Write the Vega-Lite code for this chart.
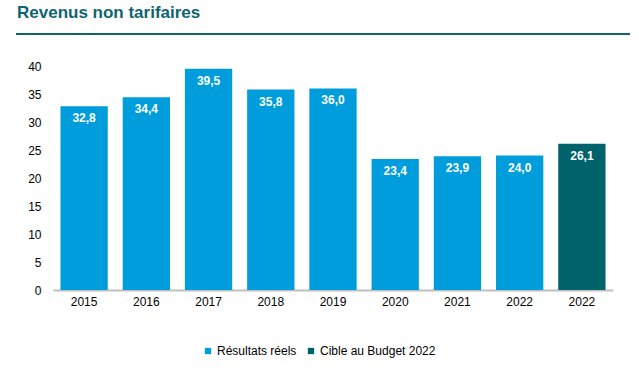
{
  "$schema": "https://vega.github.io/schema/vega-lite/v6.json",
  "autosize": {"type": "none"},
  "width": 560,
  "height": 224,
  "padding": {"left": 53, "top": 66, "right": 26, "bottom": 90},
  "background": "white",
  "config": {
    "font": "Liberation Sans",
    "view": {"stroke": null},
    "axisY": {"grid": false, "domain": false, "ticks": false, "labelFontSize": 12, "labelColor": "#000000", "labelPadding": 12, "title": null, "labelOverlap": false},
    "locale": {"number": {"decimal": ",", "thousands": " ", "grouping": [3], "currency": ["", " €"]}}
  },
  "title": {
    "text": "Revenus non tarifaires",
    "anchor": "start",
    "frame": "group",
    "dx": -36,
    "offset": 11,
    "fontSize": 17,
    "fontWeight": "bold",
    "color": "#0e6470",
    "font": "Liberation Sans"
  },
  "data": {
    "values": [
      {"cat": "2015", "value": 32.8, "serie": "Résultats réels"},
      {"cat": "2016", "value": 34.4, "serie": "Résultats réels"},
      {"cat": "2017", "value": 39.5, "serie": "Résultats réels"},
      {"cat": "2018", "value": 35.8, "serie": "Résultats réels"},
      {"cat": "2019", "value": 36.0, "serie": "Résultats réels"},
      {"cat": "2020", "value": 23.4, "serie": "Résultats réels"},
      {"cat": "2021", "value": 23.9, "serie": "Résultats réels"},
      {"cat": "2022", "value": 24.0, "serie": "Résultats réels"},
      {"cat": "2022b", "value": 26.1, "serie": "Cible au Budget 2022"}
    ]
  },
  "resolve": {"scale": {"x": "independent"}},
  "layer": [
    {
      "encoding": {
        "x": {
          "field": "cat",
          "type": "nominal",
          "sort": null,
          "scale": {"paddingInner": 0.24, "paddingOuter": 0.12},
          "axis": {
            "title": null,
            "labelAngle": 0,
            "labelExpr": "slice(datum.label, 0, 4)",
            "labelFontSize": 12,
            "labelColor": "#000000",
            "labelPadding": 6,
            "ticks": false,
            "domainColor": "#bfbfbf",
            "domainWidth": 2
          }
        },
        "y": {
          "field": "value",
          "type": "quantitative",
          "scale": {"domain": [0, 40]},
          "axis": {"values": [0, 5, 10, 15, 20, 25, 30, 35, 40]}
        }
      },
      "layer": [
        {
          "mark": {"type": "bar"},
          "encoding": {
            "color": {
              "field": "serie",
              "type": "nominal",
              "scale": {"domain": ["Résultats réels", "Cible au Budget 2022"], "range": ["#009ddc", "#00636b"]},
              "legend": {
                "title": null,
                "orient": "none",
                "legendX": 149,
                "legendY": 279,
                "direction": "horizontal",
                "symbolType": "square",
                "symbolSize": 40,
                "symbolStrokeWidth": 0,
                "labelFontSize": 12,
                "labelColor": "#000000",
                "columnPadding": 8,
                "labelOffset": 3
              }
            }
          }
        },
        {
          "mark": {"type": "text", "baseline": "top", "dy": 7, "fontSize": 12, "fontWeight": "bold", "color": "white"},
          "encoding": {
            "text": {"field": "value", "type": "quantitative", "format": ".1f"}
          }
        }
      ]
    },
    {
      "mark": {"type": "rule", "color": "#0e6470", "strokeWidth": 1.5},
      "encoding": {
        "y": {"datum": 45.7, "type": "quantitative", "axis": {"values": [0, 5, 10, 15, 20, 25, 30, 35, 40]}},
        "x": {"datum": -0.066, "type": "quantitative", "scale": {"domain": [0, 1]}, "axis": null},
        "x2": {"datum": 1.03}
      }
    }
  ]
}
